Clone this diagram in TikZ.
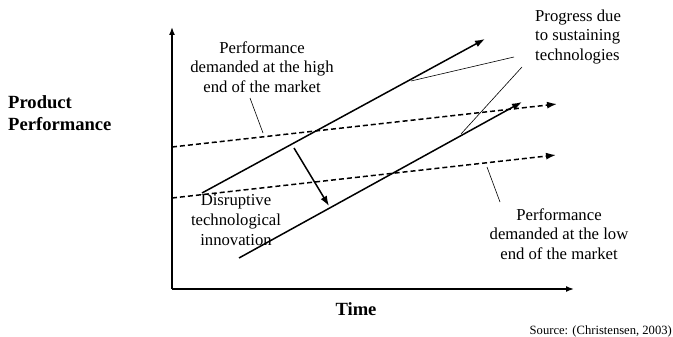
\documentclass[tikz,border=0pt]{standalone}
\usepackage{fontspec}
\setmainfont{Liberation Serif}
\usetikzlibrary{arrows.meta}
\begin{document}
\begin{tikzpicture}[x=1pt,y=-1pt,
  axisline/.style={line width=1.5pt,-{Latex[length=8pt,width=6pt]}},
  trend/.style={line width=1.5pt,-{Latex[length=10pt,width=7pt]}},
  demand/.style={line width=1.5pt,dash pattern=on 5pt off 3pt,-{Latex[length=10pt,width=7pt]}},
  leader/.style={line width=0.6pt},
  lbl/.style={font=\fontsize{16.7}{19.6}\selectfont,align=center,inner sep=0pt},
  axlbl/.style={font=\fontsize{18.6}{22}\selectfont\bfseries,inner sep=0pt}]
\useasboundingbox (0,0) rectangle (673,337);

% axes
\coordinate (origin) at (172,289);
\coordinate (ytop) at (172,27);
\coordinate (xend) at (574,289);
\draw[axisline] (origin) -- (ytop);
\draw[axisline] (origin) -- (xend);

% performance demanded (dashed trajectories)
\coordinate (hiS) at (172,147);
\coordinate (hiE) at (557,104);
\coordinate (loS) at (172,198);
\coordinate (loE) at (556,155);
\draw[demand] (hiS) -- (hiE);
\draw[demand] (loS) -- (loE);

% technology progress (solid trajectories)
\coordinate (upS) at (202,193);
\coordinate (upE) at (485,39);
\coordinate (dnS) at (239,258);
\coordinate (dnE) at (522,102);
\draw[trend] (upS) -- (upE);
\draw[trend] (dnS) -- (dnE);

% disruptive step down
\coordinate (dsS) at (294,148);
\coordinate (dsE) at (329,206);
\draw[trend] (dsS) -- (dsE);

% labels
\node[lbl] (hilbl) at (262,67) {Performance\\demanded at the high\\end of the market};
\node[lbl,align=left,anchor=west] (prog) at (535,37) {Progress due\\to sustaining\\technologies};
\node[lbl] (disr) at (236,220) {Disruptive\\technological\\innovation};
\node[lbl] (lolbl) at (559,234) {Performance\\demanded at the low\\end of the market};
\node[axlbl,align=left,anchor=west] (ylbl) at (8,113) {Product\\Performance};
\node[axlbl] (xlbl) at (356,309) {Time};
\node[inner sep=0pt,anchor=east,font=\fontsize{12.6}{14}\selectfont] (src) at (672,331) {Source: (Christensen, 2003)};

% leader lines
\coordinate (hiA) at (250,98);
\coordinate (hiB) at (263,133);
\draw[leader] (hiA) -- (hiB);
\coordinate (pgA) at (514,57);
\coordinate (pgB) at (411,81);
\draw[leader] (pgA) -- (pgB);
\coordinate (pgC) at (522,67);
\coordinate (pgD) at (461,134);
\draw[leader] (pgC) -- (pgD);
\coordinate (loA) at (487,167);
\coordinate (loB) at (500,202);
\draw[leader] (loA) -- (loB);
\end{tikzpicture}
\end{document}
